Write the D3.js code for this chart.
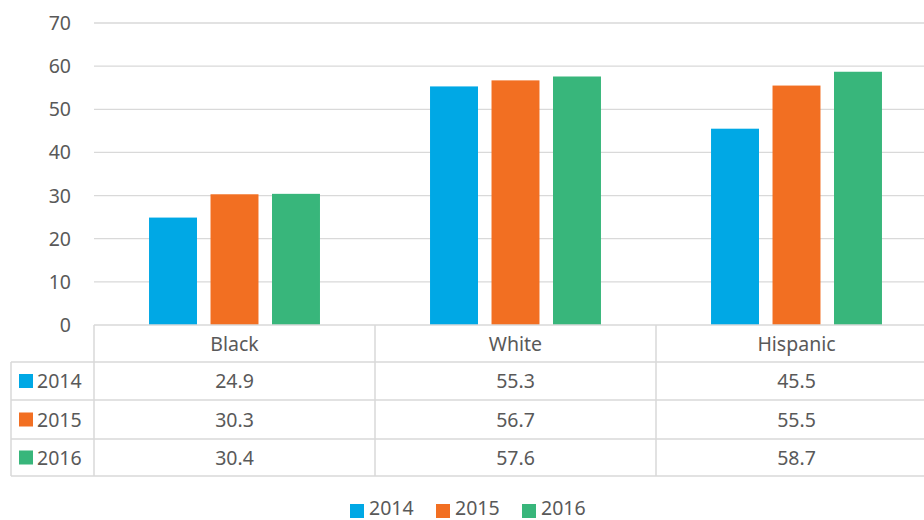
<!DOCTYPE html>
<html>
<head>
<meta charset="utf-8">
<script src="https://cdn.jsdelivr.net/npm/d3@7"></script>
<style>
body { margin:0; background:#fff; }
svg text { font-family: "Noto Sans", "Open Sans", sans-serif; fill:#595959; }
</style>
</head>
<body>
<div class="chart"></div>
<script>
var categories = ['Black', 'White', 'Hispanic'];
var years = ['2014', '2015', '2016'];
var v2014 = [24.9, 55.3, 45.5];
var v2015 = [30.3, 56.7, 55.5];
var v2016 = [30.4, 57.6, 58.7];
var yTicks = [0, 10, 20, 30, 40, 50, 60, 70];
var colors = ['#00A8E5', '#F26F22', '#38B67B'];

var series = [v2014, v2015, v2016];

var svg = d3.select('div.chart')
.append('svg')
.attr('width', 924)
.attr('height', 520)
;

var x = d3.scaleBand()
.domain(categories)
.range([94, 937])
;

var xs = d3.scaleBand()
.domain(years)
.range([0, x.bandwidth()])
.paddingInner(0.22)
.paddingOuter(0.895)
;

var y = d3.scaleLinear()
.domain([0, 70])
.range([325, 23])
;

// gridlines
svg.append('g')
.selectAll('line')
.data(yTicks.slice(1))
.enter()
.append('line')
.attr('x1', 94)
.attr('x2', 937)
.attr('y1', function(d){return y(d)})
.attr('y2', function(d){return y(d)})
.attr('stroke', '#d9d9d9')
.attr('stroke-width', 1.3)
;

// y labels
svg.append('g')
.selectAll('text')
.data(yTicks)
.enter()
.append('text')
.attr('x', 71)
.attr('y', function(d){return y(d) + 7})
.attr('text-anchor', 'end')
.attr('font-size', 19.5)
.text(function(d){return d})
;

// bars
series.forEach(function(vals, i){
    svg.append('g')
    .selectAll('rect')
    .data(vals)
    .enter()
    .append('rect')
    .attr('x', function(d, j){return x(categories[j]) + xs(years[i])})
    .attr('width', xs.bandwidth())
    .attr('y', function(d){return y(d)})
    .attr('height', function(d){return y(0) - y(d)})
    .attr('fill', colors[i])
    ;
});

// data table
var rowY = [325, 362, 400, 439, 476];
var grid = svg.append('g').attr('stroke', '#d9d9d9').attr('stroke-width', 1.5);

grid.append('line').attr('x1', 94).attr('x2', 937).attr('y1', rowY[0]).attr('y2', rowY[0]);
rowY.slice(1).forEach(function(ry){
    grid.append('line').attr('x1', 11).attr('x2', 937).attr('y1', ry).attr('y2', ry);
});
grid.append('line').attr('x1', 11).attr('x2', 11).attr('y1', rowY[1]).attr('y2', rowY[4]);
categories.forEach(function(c){
    grid.append('line').attr('x1', x(c)).attr('x2', x(c)).attr('y1', rowY[0]).attr('y2', rowY[4]);
});

// header
svg.append('g')
.selectAll('text')
.data(categories)
.enter()
.append('text')
.attr('x', function(d){return x(d) + x.bandwidth() / 2})
.attr('y', (rowY[0] + rowY[1]) / 2 + 7)
.attr('text-anchor', 'middle')
.attr('font-size', 19.5)
.text(function(d){return d})
;

series.forEach(function(vals, i){
    var cy = (rowY[i + 1] + rowY[i + 2]) / 2;
    svg.append('rect')
    .attr('x', 19).attr('y', cy - 7).attr('width', 14).attr('height', 14)
    .attr('fill', colors[i]);
    svg.append('text')
    .attr('x', 37).attr('y', cy + 7)
    .attr('font-size', 19.5)
    .text(years[i]);
    svg.append('g')
    .selectAll('text')
    .data(vals)
    .enter()
    .append('text')
    .attr('x', function(d, j){return x(categories[j]) + x.bandwidth() / 2})
    .attr('y', cy + 7)
    .attr('text-anchor', 'middle')
    .attr('font-size', 19.5)
    .text(function(d){return d.toFixed(1)})
    ;
});

// legend
var legendX = [350, 436, 522];
years.forEach(function(yr, i){
    svg.append('rect')
    .attr('x', legendX[i]).attr('y', 504).attr('width', 14).attr('height', 14)
    .attr('fill', colors[i]);
    svg.append('text')
    .attr('x', legendX[i] + 19).attr('y', 515)
    .attr('font-size', 19.5)
    .text(yr);
});
</script>
</body>
</html>
